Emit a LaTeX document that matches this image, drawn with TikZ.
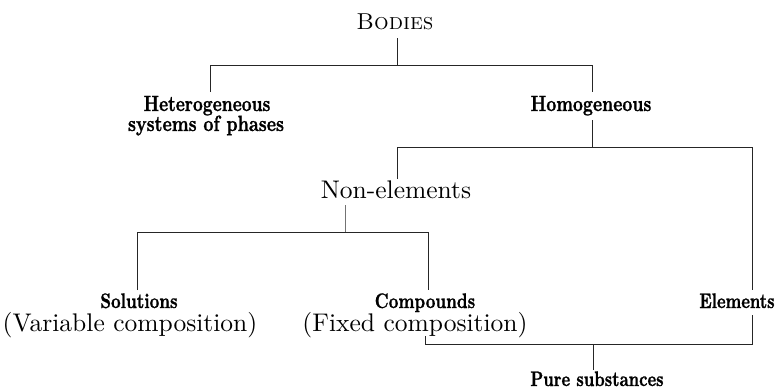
\documentclass[tikz,border=0pt]{standalone}
\usepackage{fontspec}
\usepackage{graphicx}
\newfontfamily\rmten{lmroman10-regular.otf}
\newfontfamily\bften[FakeBold=1.2]{lmroman10-bold.otf}
\newfontfamily\scten{lmromancaps10-regular.otf}
% bold label: #1 horizontal scale, #2 size, #3 text
\newcommand\blab[3]{\scalebox{#1}[1]{\bften\fontsize{#2}{#2}\selectfont #3}}
\newcommand\rlab[1]{{\rmten\fontsize{25.5}{30}\selectfont #1}}
\tikzset{
  lab/.style={inner sep=0pt, anchor=base},
  conn/.style={line width=0.8pt, draw=black!85},
  faint/.style={line width=0.6pt, draw=black!55}
}
\begin{document}
\begin{tikzpicture}[x=1pt,y=-1pt]
\useasboundingbox (0,0) rectangle (783,391);
% labels
\node[lab] (bodies) at (395,29) {\scten\fontsize{23}{28}\selectfont Bodies};
\node[lab] (het) at (207,111) {\blab{0.78}{22}{Heterogeneous}};
\node[lab] (het2) at (206,131) {\blab{0.80}{22}{systems of phases}};
\node[lab] (hom) at (591,111) {\blab{0.79}{22}{Homogeneous}};
\node[lab] (non) at (396,198) {\rlab{Non-elements}};
\node[lab] (sol) at (139,308) {\blab{0.80}{21}{Solutions}};
\node[lab] (var) at (130,331) {\rlab{(Variable composition)}};
\node[lab] (com) at (425,308) {\blab{0.80}{21}{Compounds}};
\node[lab] (fix) at (415,331) {\rlab{(Fixed composition)}};
\node[lab] (ele) at (737,308) {\blab{0.78}{21}{Elements}};
\node[lab] (pure) at (597,386) {\blab{0.78}{21}{Pure substances}};
% junction coordinates
\coordinate (b0) at (397,38);
\coordinate (b1) at (397,65);
\coordinate (bl) at (210,65);
\coordinate (br) at (592,65);
\coordinate (hetT) at (210,92);
\coordinate (homT) at (592,92);
\coordinate (hom0) at (592,120);
\coordinate (hom1) at (592,147);
\coordinate (hl) at (397,147);
\coordinate (hr) at (752,147);
\coordinate (nonT) at (397,179);
\coordinate (eleT) at (752,290);
\coordinate (non0) at (345,205);
\coordinate (non1) at (345,232);
\coordinate (nl) at (137,232);
\coordinate (nr) at (428,232);
\coordinate (solT) at (137,290);
\coordinate (comT) at (428,290);
\coordinate (fix0) at (425,336);
\coordinate (pl) at (425,344);
\coordinate (pr) at (752,344);
\coordinate (ele0) at (752,315);
\coordinate (p1) at (593,344);
\coordinate (pureT) at (593,370);
% connectors
\draw[conn] (b0) -- (b1);
\draw[conn] (hetT) -- (bl) -- (br) -- (homT);
\draw[conn] (hom0) -- (hom1);
\draw[conn] (nonT) -- (hl) -- (hr) -- (eleT);
\draw[faint] (non0) -- (non1);
\draw[conn] (solT) -- (nl) -- (nr) -- (comT);
\draw[conn] (fix0) -- (pl) -- (pr) -- (ele0);
\draw[conn] (p1) -- (pureT);
\end{tikzpicture}
\end{document}
